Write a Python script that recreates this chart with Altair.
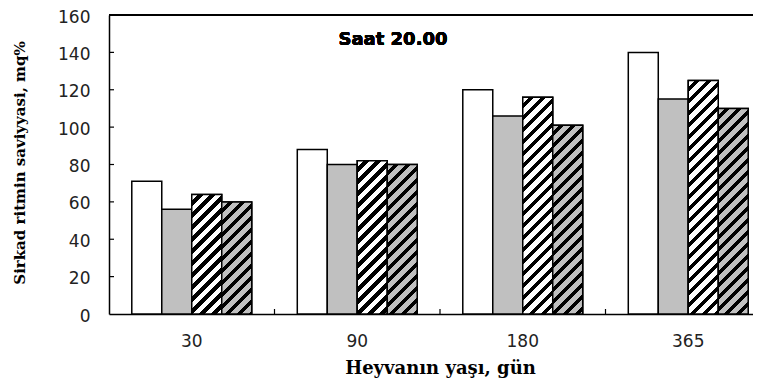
import math
import altair as alt
import pandas as pd

# ---- data ----
ages = ["30", "90", "180", "365"]
series = ["I", "II", "III", "IV"]
s1 = [71, 88, 120, 140]   # white
s2 = [56, 80, 106, 115]   # gray
s3 = [64, 82, 116, 125]   # white, hatched
s4 = [60, 80, 101, 110]   # gray, hatched
y_ticks = [0, 20, 40, 60, 80, 100, 120, 140, 160]
y_title = "Sirkad ritmin saviyyasi, mq%"
x_title = "Heyvanın yaşı, gün"
note = "Saat 20.00"

# ---- layout / style ----
PLOT_W = 644          # visible plot width
RANGE_W = 662         # the category axis runs past the right edge (cropped chart)
PLOT_H = 299
OUTER = 0.76
band = RANGE_W / len(ages)
bar_w = band / (len(series) + 2 * OUTER)
GRAY = "#c0c0c0"
PERIOD = 12.0         # vertical spacing of hatch lines (px)
BLACK_FRAC = 0.45

rows = []
for name, vals in zip(series, [s1, s2, s3, s4]):
    for a, v in zip(ages, vals):
        rows.append({"age": a, "series": name, "value": v})
df = pd.DataFrame(rows)


def x_enc(**kw):
    return alt.X(
        "age:N", sort=ages,
        scale=alt.Scale(domain=ages, range=[0, RANGE_W], paddingInner=0, paddingOuter=0),
        axis=alt.Axis(
            title=x_title, labelAngle=0, ticks=False, labelPadding=19,
            labelFont="DejaVu Sans", labelFontSize=17, labelColor="#222",
            domainColor="black", domainWidth=1.5,
            titleFont="DejaVu Serif", titleFontSize=18, titleFontWeight="bold",
            titleColor="black", titleBaseline="alphabetic", titleY=59, titleX=RANGE_W / 2,
        ),
        **kw,
    )


def y_enc():
    return alt.Y(
        "value:Q",
        scale=alt.Scale(domain=[0, 160], nice=False),
        axis=alt.Axis(
            values=y_ticks, title=y_title, ticks=False, labelPadding=19, grid=False,
            labelOffset=2,
            labelFont="DejaVu Sans", labelFontSize=17, labelColor="#222",
            domainColor="black", domainWidth=1.5,
            titleFont="DejaVu Serif", titleFontSize=15, titleFontWeight="bold",
            titleColor="black", titleAngle=-90, titleX=-90, titleY=PLOT_H / 2 - 2,
            titleBaseline="middle", titleAlign="center",
        ),
    )


xo = alt.XOffset("series:N", sort=series,
                 scale=alt.Scale(domain=series, paddingInner=0, paddingOuter=OUTER))

bars = alt.Chart(df).mark_bar(stroke="black", strokeWidth=1.5).encode(
    x=x_enc(), xOffset=xo, y=y_enc(),
    fill=alt.Fill("series:N", scale=alt.Scale(domain=series,
                  range=["white", GRAY, "white", GRAY]), legend=None),
)


def hatch(value, bg):
    w = bar_w
    h = value * PLOT_H / 160.0
    s = (w + h) / (w * w + h * h)
    n = (w + h) / PERIOD
    stops = []
    k = 0
    while k / n < 1:
        o0 = k / n
        o1 = min((k + 1 - BLACK_FRAC) / n, 1)
        o2 = min((k + 1) / n, 1)
        stops += [{"offset": o0, "color": bg}, {"offset": o1, "color": bg},
                  {"offset": o1, "color": "black"}, {"offset": o2, "color": "black"}]
        k += 1
    return {"gradient": "linear", "x1": 0, "y1": 0, "x2": w * s, "y2": h * s,
            "stops": stops}


hatch_layers = []
for name, vals, bg in [("III", s3, "white"), ("IV", s4, GRAY)]:
    for a, v in zip(ages, vals):
        hatch_layers.append(
            alt.Chart(df).transform_filter(
                (alt.datum.age == a) & (alt.datum.series == name)
            ).mark_bar(fill=hatch(v, bg), stroke="black", strokeWidth=1.5).encode(
                x=x_enc(), xOffset=xo, y=y_enc()
            )
        )

ytick_df = pd.DataFrame({"value": y_ticks[1:-1]})
yticks = alt.Chart(ytick_df).mark_rule(color="black", strokeWidth=1.2).encode(
    y=y_enc(), x=alt.value(0), x2=alt.value(5)
)

xtick_df = pd.DataFrame({"age": ages[1:]})
xticks = alt.Chart(xtick_df).mark_rule(color="black", strokeWidth=1.2).encode(
    x=x_enc(bandPosition=0), y=alt.value(PLOT_H), y2=alt.value(PLOT_H - 5)
)

top_line = alt.Chart(ytick_df).mark_rule(color="black", strokeWidth=1.5).encode(
    x=alt.value(0), x2=alt.value(RANGE_W), y=alt.value(0)
)

label = alt.Chart(ytick_df).mark_text(
    text=note, font="DejaVu Sans", fontSize=18, fontWeight="bold", color="black",
    align="center", baseline="middle"
).encode(x=alt.value(284), y=alt.value(25))

chart = alt.layer(bars, *hatch_layers, yticks, xticks, top_line, label).properties(
    width=PLOT_W, height=PLOT_H,
    autosize=alt.AutoSizeParams(type="none"),
    padding={"left": 101, "top": 7, "right": 0, "bottom": 64},
).configure_view(stroke=None)

chart.save("out.html", embed_options={"renderer": "svg", "actions": False})
